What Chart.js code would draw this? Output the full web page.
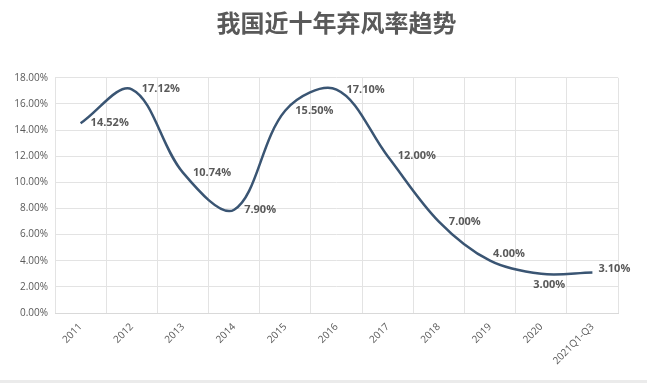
<!DOCTYPE html>
<html>
<head>
<meta charset="utf-8">
<script src="https://cdn.jsdelivr.net/npm/chart.js@4"></script>
<style>
  html, body { margin: 0; padding: 0; background: #fff; }
  #wrap { position: relative; width: 647px; height: 385px; }
  #bottomLine { position: absolute; left: 0; top: 380px; width: 647px; height: 3px; background: #ebebeb; }
</style>
</head>
<body>
<div id="wrap">
  <canvas id="rateChart" width="647" height="385"></canvas>
  <div id="bottomLine"></div>
</div>
<script>
const years = ["2011", "2012", "2013", "2014", "2015", "2016", "2017", "2018", "2019", "2020", "2021Q1-Q3"];
const curtailmentRate = [14.52, 17.12, 10.74, 7.90, 15.50, 17.10, 12.00, 7.00, 4.00, 3.00, 3.10];
const yMin = 0;
const yMax = 18;
const yStep = 2;
// where each value label sits around its point
const labelPlacement = ["right", "right", "right", "right", "right", "right", "right", "right", "above", "below", "rightHigh"];

const textGray = "#595959";

// draws the value labels next to the line, like the excel data labels
const valueLabels = {
  id: "valueLabels",
  afterDatasetsDraw(chart) {
    const ctx = chart.ctx;
    const points = chart.getDatasetMeta(0).data;
    ctx.save();
    ctx.font = "bold 11px 'Open Sans', sans-serif";
    ctx.fillStyle = textGray;
    ctx.textBaseline = "middle";
    points.forEach((pt, i) => {
      const text = curtailmentRate[i].toFixed(2) + "%";
      const place = labelPlacement[i];
      if (place === "above") {
        ctx.textAlign = "left";
        ctx.fillText(text, pt.x + 3, pt.y - 7);
      } else if (place === "below") {
        ctx.textAlign = "center";
        ctx.fillText(text, pt.x + 8, pt.y + 11);
      } else if (place === "rightHigh") {
        ctx.textAlign = "left";
        ctx.fillText(text, pt.x + 6, pt.y - 4);
      } else {
        ctx.textAlign = "left";
        ctx.fillText(text, pt.x + 10, pt.y);
      }
    });
    ctx.restore();
  }
};

const ctx = document.getElementById("rateChart").getContext("2d");
new Chart(ctx, {
  type: "line",
  data: {
    labels: years,
    datasets: [
      {
        label: "弃风率",
        data: curtailmentRate,
        borderColor: "#3A5573",
        borderWidth: 2.5,
        pointRadius: 0,
        tension: 0.35,
        fill: false,
      },
    ],
  },
  options: {
    responsive: false,
    animation: false,
    devicePixelRatio: 1,
    layout: {
      padding: { left: 0, right: 29, top: 0, bottom: 0 },
    },
    plugins: {
      legend: { display: false },
      tooltip: { enabled: false },
      title: {
        display: true,
        fullSize: false,
        text: "我国近十年弃风率趋势",
        color: textGray,
        font: { family: "'Noto Sans CJK SC', sans-serif", size: 24, weight: "bold" },
        padding: { top: 8, bottom: 41 },
      },
    },
    scales: {
      x: {
        offset: true,
        grid: {
          offset: true,
          color: "#e3e3e3",
          drawTicks: false,
        },
        border: { color: "#d9d9d9" },
        ticks: {
          color: textGray,
          font: { family: "'Open Sans', sans-serif", size: 10 },
          maxRotation: 45,
          minRotation: 45,
          padding: 8,
        },
        afterFit(scale) {
          scale.height = 72;
        },
      },
      y: {
        min: yMin,
        max: yMax,
        grid: {
          color: "#e3e3e3",
          drawTicks: false,
        },
        border: { display: false },
        ticks: {
          stepSize: yStep,
          color: textGray,
          font: { family: "'Open Sans', sans-serif", size: 10 },
          padding: 7,
          callback: (v) => v.toFixed(2) + "%",
        },
        afterFit(scale) {
          scale.width = 55;
        },
      },
    },
  },
  plugins: [valueLabels],
});
</script>
</body>
</html>
